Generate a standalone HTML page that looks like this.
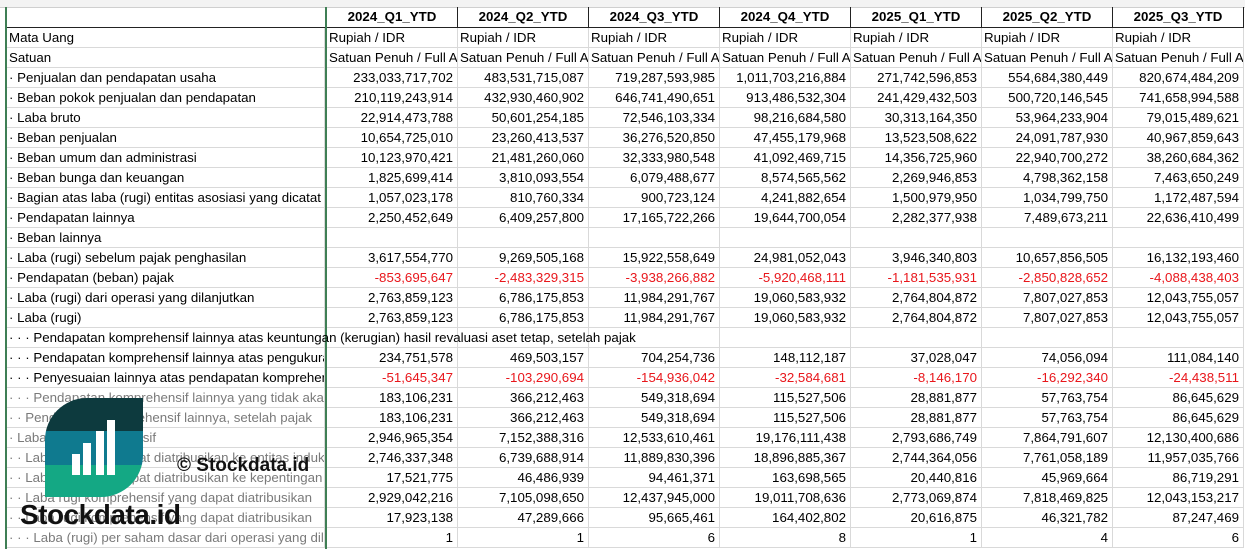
<!DOCTYPE html>
<html><head><meta charset="utf-8">
<style>
body{margin:0;width:1245px;height:549px;overflow:hidden;background:#fff;font-family:"Liberation Sans",sans-serif;font-size:13.3px;color:#000;position:relative}
.c{position:absolute;height:20px;line-height:20px;white-space:nowrap;overflow:hidden;box-sizing:border-box;border-bottom:1px solid #d9d9d9;border-right:1px solid #d9d9d9}
.n{text-align:right;padding-right:4px}
.l{padding-left:2px}
.h{font-weight:bold;text-align:center;border-bottom:1.5px solid #222;border-right:1px solid #222}
.red{color:#e8161b}
.g{color:#7a7a7a}
</style></head><body>
<div style="position:absolute;left:0;top:0;width:1245px;height:7px;background:#f3f3f3;border-bottom:1px solid #cfcfcf"></div>
<div id="sheet"></div>
<div style="position:absolute;left:5px;top:7px;width:2px;height:542px;background:#3f7f55"></div>
<div style="position:absolute;left:325px;top:7px;width:2px;height:542px;background:#3f7f55"></div>
<div style="position:absolute;left:45px;top:398px;width:98px;height:99px;border-radius:42px 0 42px 0;overflow:hidden">
 <div style="height:33px;background:#0d3a3e"></div>
 <div style="height:34px;background:#0f7a8f"></div>
 <div style="height:32px;background:#14a884"></div>
 <div style="position:absolute;left:27px;top:56px;width:8px;height:21px;background:#fff"></div>
 <div style="position:absolute;left:38px;top:45px;width:8px;height:32px;background:#fff"></div>
 <div style="position:absolute;left:51px;top:33px;width:8px;height:44px;background:#fff"></div>
 <div style="position:absolute;left:62px;top:22px;width:8px;height:55px;background:#fff"></div>
</div>
<div style="position:absolute;left:177px;top:455px;font-weight:bold;font-size:19px;color:#111">© Stockdata.id</div>
<div style="position:absolute;left:20px;top:499px;font-weight:bold;font-size:28px;color:#111;letter-spacing:-0.5px">Stockdata.id</div>
<script>
const headers=["2024_Q1_YTD","2024_Q2_YTD","2024_Q3_YTD","2024_Q4_YTD","2025_Q1_YTD","2025_Q2_YTD","2025_Q3_YTD"];
const rows=[
["Mata Uang",["Rupiah / IDR","Rupiah / IDR","Rupiah / IDR","Rupiah / IDR","Rupiah / IDR","Rupiah / IDR","Rupiah / IDR"],"t"],
["Satuan",["Satuan Penuh / Full Amount","Satuan Penuh / Full Amount","Satuan Penuh / Full Amount","Satuan Penuh / Full Amount","Satuan Penuh / Full Amount","Satuan Penuh / Full Amount","Satuan Penuh / Full Amount"],"t"],
["· Penjualan dan pendapatan usaha",["233,033,717,702","483,531,715,087","719,287,593,985","1,011,703,216,884","271,742,596,853","554,684,380,449","820,674,484,209"]],
["· Beban pokok penjualan dan pendapatan",["210,119,243,914","432,930,460,902","646,741,490,651","913,486,532,304","241,429,432,503","500,720,146,545","741,658,994,588"]],
["· Laba bruto",["22,914,473,788","50,601,254,185","72,546,103,334","98,216,684,580","30,313,164,350","53,964,233,904","79,015,489,621"]],
["· Beban penjualan",["10,654,725,010","23,260,413,537","36,276,520,850","47,455,179,968","13,523,508,622","24,091,787,930","40,967,859,643"]],
["· Beban umum dan administrasi",["10,123,970,421","21,481,260,060","32,333,980,548","41,092,469,715","14,356,725,960","22,940,700,272","38,260,684,362"]],
["· Beban bunga dan keuangan",["1,825,699,414","3,810,093,554","6,079,488,677","8,574,565,562","2,269,946,853","4,798,362,158","7,463,650,249"]],
["· Bagian atas laba (rugi) entitas asosiasi yang dicatat",["1,057,023,178","810,760,334","900,723,124","4,241,882,654","1,500,979,950","1,034,799,750","1,172,487,594"]],
["· Pendapatan lainnya",["2,250,452,649","6,409,257,800","17,165,722,266","19,644,700,054","2,282,377,938","7,489,673,211","22,636,410,499"]],
["· Beban lainnya",["","","","","","",""]],
["· Laba (rugi) sebelum pajak penghasilan",["3,617,554,770","9,269,505,168","15,922,558,649","24,981,052,043","3,946,340,803","10,657,856,505","16,132,193,460"]],
["· Pendapatan (beban) pajak",["-853,695,647","-2,483,329,315","-3,938,266,882","-5,920,468,111","-1,181,535,931","-2,850,828,652","-4,088,438,403"],"r"],
["· Laba (rugi) dari operasi yang dilanjutkan",["2,763,859,123","6,786,175,853","11,984,291,767","19,060,583,932","2,764,804,872","7,807,027,853","12,043,755,057"]],
["· Laba (rugi)",["2,763,859,123","6,786,175,853","11,984,291,767","19,060,583,932","2,764,804,872","7,807,027,853","12,043,755,057"]],
["· · · Pendapatan komprehensif lainnya atas keuntungan (kerugian) hasil revaluasi aset tetap, setelah pajak",["","","","","","",""],"o"],
["· · · Pendapatan komprehensif lainnya atas pengukuran kembali",["234,751,578","469,503,157","704,254,736","148,112,187","37,028,047","74,056,094","111,084,140"]],
["· · · Penyesuaian lainnya atas pendapatan komprehensif",["-51,645,347","-103,290,694","-154,936,042","-32,584,681","-8,146,170","-16,292,340","-24,438,511"],"r"],
["· · · Pendapatan komprehensif lainnya yang tidak akan",["183,106,231","366,212,463","549,318,694","115,527,506","28,881,877","57,763,754","86,645,629"],"g"],
["· · Pendapatan komprehensif lainnya, setelah pajak",["183,106,231","366,212,463","549,318,694","115,527,506","28,881,877","57,763,754","86,645,629"],"g"],
["· Laba rugi komprehensif",["2,946,965,354","7,152,388,316","12,533,610,461","19,176,111,438","2,793,686,749","7,864,791,607","12,130,400,686"],"g"],
["· · Laba rugi yang dapat diatribusikan ke entitas induk",["2,746,337,348","6,739,688,914","11,889,830,396","18,896,885,367","2,744,364,056","7,761,058,189","11,957,035,766"],"g"],
["· · Laba rugi yang dapat diatribusikan ke kepentingan",["17,521,775","46,486,939","94,461,371","163,698,565","20,440,816","45,969,664","86,719,291"],"g"],
["· · Laba rugi komprehensif yang dapat diatribusikan",["2,929,042,216","7,105,098,650","12,437,945,000","19,011,708,636","2,773,069,874","7,818,469,825","12,043,153,217"],"g"],
["· · Laba rugi komprehensif yang dapat diatribusikan",["17,923,138","47,289,666","95,665,461","164,402,802","20,616,875","46,321,782","87,247,469"],"g"],
["· · · Laba (rugi) per saham dasar dari operasi yang dil",["1","1","6","8","1","4","6"],"g"]
];
const sheet=document.getElementById('sheet');
const colX=c=>327+c*131;
function cell(x,y,w,cls,txt){const d=document.createElement('div');d.className='c '+cls;d.style.left=x+'px';d.style.top=y+'px';d.style.width=w+'px';d.textContent=txt;sheet.appendChild(d);return d;}
let h0=cell(7,7,320,'h','');h0.style.height='21px';


headers.forEach((t,i)=>{const d=cell(colX(i),7,131,'h',t);d.style.height='21px';

});
rows.forEach((r,ri)=>{const y=28+ri*20;const k=r[2]||'';
 const lab=cell(7,y,318,'l'+(k==='g'?' g':''),r[0]);
 if(k==='o'){lab.style.overflow='visible';lab.style.zIndex=2;}
 
 
 r[1].forEach((v,ci)=>{const d=cell(colX(ci),y,131,(k==='t'?'l':'n')+(k==='r'?' red':''),v);
 
 });
});
</script>
</body></html>
